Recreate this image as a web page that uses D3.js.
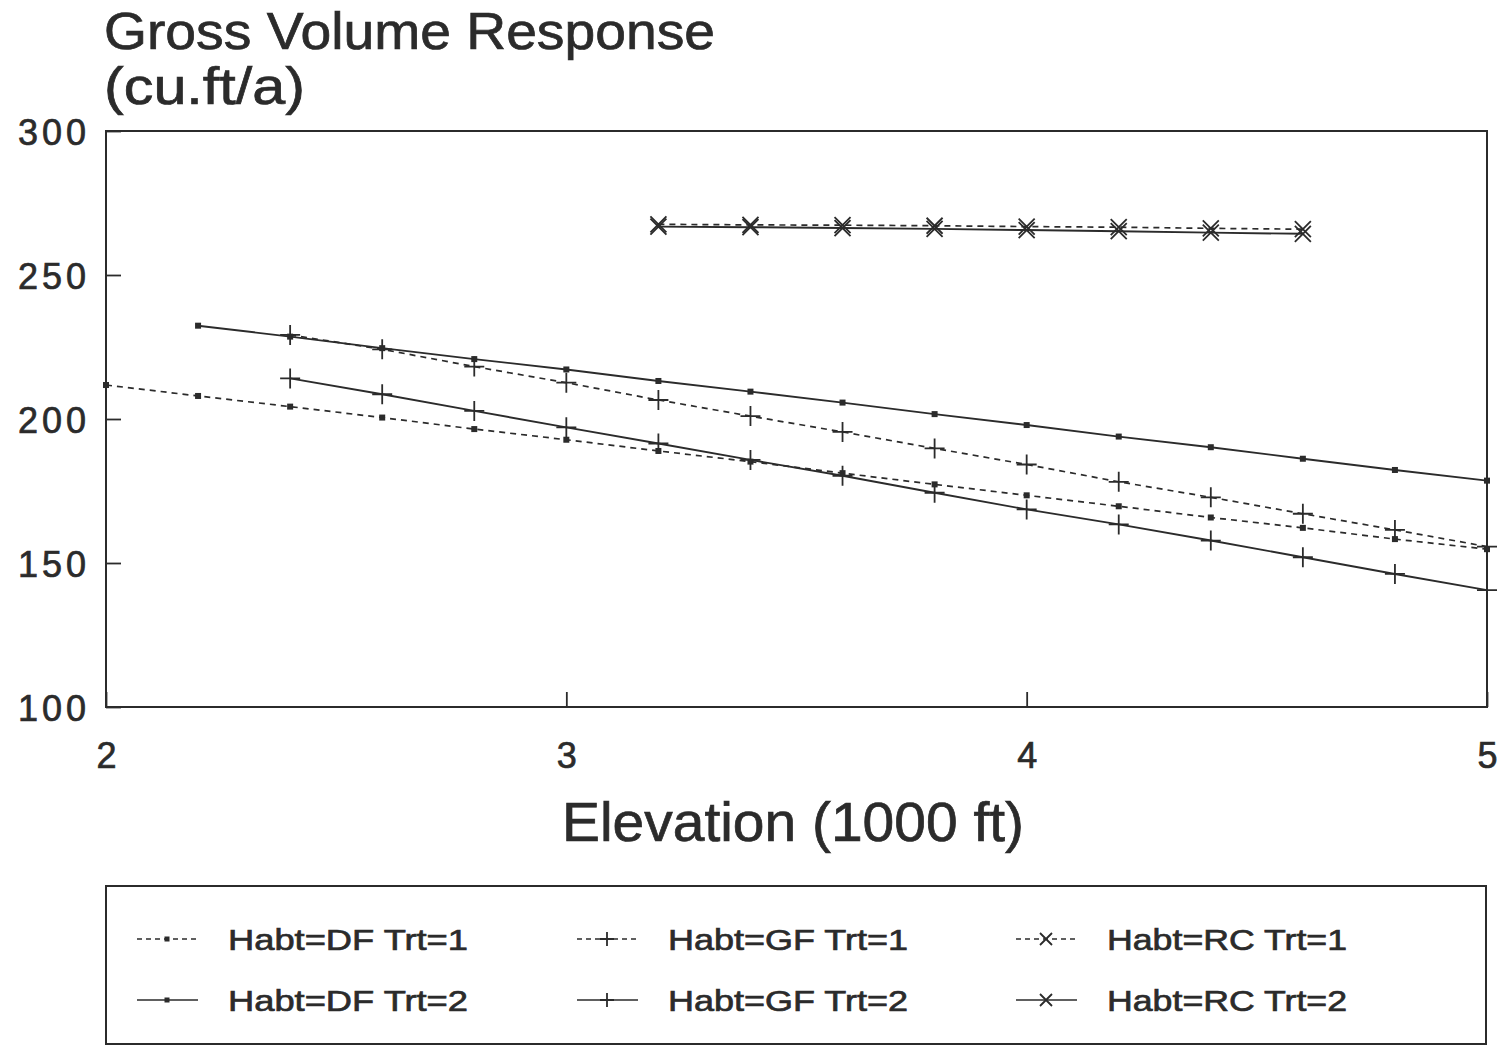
<!DOCTYPE html>
<html>
<head>
<meta charset="utf-8">
<script src="https://cdn.jsdelivr.net/npm/d3@7"></script>
<style>
  html, body { margin: 0; padding: 0; background: #fff; }
  svg { display: block; }
  text { font-family: "Liberation Sans", Arial, Helvetica, sans-serif; fill: #2b2b2b; stroke: #2b2b2b; stroke-width: 0.7px; }
</style>
</head>
<body>
<svg id="chart" width="1507" height="1046"></svg>
<script>
// ---------------- data ----------------
const xDF1 = [2.0, 2.2, 2.4, 2.6, 2.8, 3.0, 3.2, 3.4, 3.6, 3.8, 4.0, 4.2, 4.4, 4.6, 4.8, 5.0];
const yDF1 = [211.8, 208.0, 204.3, 200.5, 196.5, 192.8, 188.9, 185.2, 181.2, 177.3, 173.5, 169.7, 165.8, 162.2, 158.3, 154.8];

const xDF2 = [2.2, 2.4, 2.6, 2.8, 3.0, 3.2, 3.4, 3.6, 3.8, 4.0, 4.2, 4.4, 4.6, 4.8, 5.0];
const yDF2 = [232.4, 228.6, 224.6, 220.8, 217.2, 213.2, 209.5, 205.7, 201.7, 197.9, 193.9, 190.2, 186.2, 182.3, 178.6];

const xGF1 = [2.4, 2.6, 2.8, 3.0, 3.2, 3.4, 3.6, 3.8, 4.0, 4.2, 4.4, 4.6, 4.8, 5.0];
const yGF1 = [229.2, 224.2, 218.2, 212.6, 206.6, 201.0, 195.5, 189.8, 184.2, 178.2, 172.8, 167.1, 161.5, 155.7];

const xGF2 = [2.4, 2.6, 2.8, 3.0, 3.2, 3.4, 3.6, 3.8, 4.0, 4.2, 4.4, 4.6, 4.8, 5.0];
const yGF2 = [214.1, 208.6, 202.8, 197.1, 191.5, 185.8, 180.3, 174.4, 168.6, 163.4, 157.8, 152.0, 146.2, 140.6];

const xRC1 = [3.2, 3.4, 3.6, 3.8, 4.0, 4.2, 4.4, 4.6];
const yRC1 = [267.6, 267.4, 267.3, 267.1, 266.8, 266.6, 266.2, 265.9];

const xRC2 = [3.2, 3.4, 3.6, 3.8, 4.0, 4.2, 4.4, 4.6];
const yRC2 = [266.8, 266.6, 266.3, 266.0, 265.6, 265.2, 264.7, 264.3];

const seriesNames = ["Habt=DF Trt=1", "Habt=DF Trt=2", "Habt=GF Trt=1", "Habt=GF Trt=2", "Habt=RC Trt=1", "Habt=RC Trt=2"];
const xTicks = [2, 3, 4, 5];
const yTicks = [100, 150, 200, 250, 300];
const titleLines = ["Gross Volume Response", "(cu.ft/a)"];
const xTitle = "Elevation (1000 ft)";

// ---------------- setup ----------------
const INK = "#2b2b2b";
const svg = d3.select("#chart");
const L = 106, R = 1487, T = 131, B = 707;
const x = d3.scaleLinear().domain([2, 5]).range([L, R]);
const y = d3.scaleLinear().domain([100, 300]).range([B, T]);

const series = [
  { name: seriesNames[0], xs: xDF1, ys: yDF1, dash: true,  marker: "square" },
  { name: seriesNames[1], xs: xDF2, ys: yDF2, dash: false, marker: "square" },
  { name: seriesNames[2], xs: xGF1, ys: yGF1, dash: true,  marker: "plus" },
  { name: seriesNames[3], xs: xGF2, ys: yGF2, dash: false, marker: "plus" },
  { name: seriesNames[4], xs: xRC1, ys: yRC1, dash: true,  marker: "cross" },
  { name: seriesNames[5], xs: xRC2, ys: yRC2, dash: false, marker: "cross" }
];

function drawMarker(g, type, cx, cy, s) {
  if (type === "square") {
    g.append("rect").attr("x", cx - s.sq / 2).attr("y", cy - s.sq / 2)
      .attr("width", s.sq).attr("height", s.sq).attr("fill", INK);
  } else if (type === "plus") {
    g.append("path")
      .attr("d", `M${cx - s.pl},${cy}H${cx + s.pl}M${cx},${cy - s.pl}V${cy + s.pl}`)
      .attr("stroke", INK).attr("stroke-width", 1.8).attr("fill", "none");
  } else {
    g.append("path")
      .attr("d", `M${cx - s.cr},${cy - s.cr}L${cx + s.cr},${cy + s.cr}M${cx - s.cr},${cy + s.cr}L${cx + s.cr},${cy - s.cr}`)
      .attr("stroke", INK).attr("stroke-width", 1.8).attr("fill", "none");
  }
}

// ---------------- title ----------------
svg.append("text").attr("x", 104).attr("y", 49)
  .attr("font-size", 52).attr("textLength", 611).attr("lengthAdjust", "spacingAndGlyphs")
  .text(titleLines[0]);
svg.append("text").attr("x", 104).attr("y", 104)
  .attr("font-size", 52).attr("textLength", 201).attr("lengthAdjust", "spacingAndGlyphs")
  .text(titleLines[1]);

// ---------------- axes ----------------
const yAxis = d3.axisLeft(y).tickValues(yTicks).tickSize(-15).tickPadding(16).tickFormat(d3.format("d"));
const gy = svg.append("g").attr("transform", `translate(${L},0)`).call(yAxis);
gy.select(".domain").remove();
gy.selectAll(".tick line").attr("stroke", INK).attr("stroke-width", 1.8);
gy.selectAll(".tick text").attr("font-size", 36).attr("fill", INK)
  .attr("font-family", "'Liberation Sans', Arial, sans-serif")
  .style("letter-spacing", "4px").attr("dy", "0.37em");

const xAxis = d3.axisBottom(x).tickValues(xTicks).tickSize(-15).tickPadding(35).tickFormat(d3.format("d"));
const gx = svg.append("g").attr("transform", `translate(0,${B})`).call(xAxis);
gx.select(".domain").remove();
gx.selectAll(".tick line").attr("stroke", INK).attr("stroke-width", 1.8);
gx.selectAll(".tick text").attr("font-size", 36).attr("fill", INK)
  .attr("font-family", "'Liberation Sans', Arial, sans-serif");

// frame
svg.append("rect").attr("x", L).attr("y", T).attr("width", R - L).attr("height", B - T)
  .attr("fill", "none").attr("stroke", INK).attr("stroke-width", 2);

// x axis title
svg.append("text").attr("x", 562).attr("y", 841)
  .attr("font-size", 56).attr("textLength", 462).attr("lengthAdjust", "spacingAndGlyphs")
  .text(xTitle);

// ---------------- series ----------------
const line = d3.line().x(d => x(d[0])).y(d => y(d[1]));
const plotMarkerSize = { sq: 6, pl: 10, cr: 8 };
series.forEach(s => {
  const pts = s.xs.map((v, i) => [v, s.ys[i]]);
  svg.append("path").datum(pts).attr("d", line)
    .attr("fill", "none").attr("stroke", INK).attr("stroke-width", s.dash ? 1.7 : 1.9)
    .attr("stroke-dasharray", s.dash ? "6,5" : null);
  const g = svg.append("g");
  pts.forEach(p => drawMarker(g, s.marker, x(p[0]), y(p[1]), plotMarkerSize));
});

// ---------------- legend ----------------
svg.append("rect").attr("x", 106).attr("y", 886).attr("width", 1380).attr("height", 158)
  .attr("fill", "none").attr("stroke", INK).attr("stroke-width", 2);

const legCols = [137, 577, 1016];
const legRows = [939, 1000];
const legendMarkerSize = { sq: 5, pl: 7, cr: 6 };
series.forEach((s, i) => {
  const col = Math.floor(i / 2), row = i % 2;
  const lx = legCols[col], ly = legRows[row];
  const g = svg.append("g");
  g.append("line").attr("x1", lx).attr("x2", lx + 61).attr("y1", ly).attr("y2", ly)
    .attr("stroke", INK).attr("stroke-width", 1.7)
    .attr("stroke-dasharray", s.dash ? "5,4" : null);
  drawMarker(g, s.marker, lx + 30, ly, legendMarkerSize);
  g.append("text").attr("x", lx + 91).attr("y", ly + 11)
    .attr("font-size", 30).attr("textLength", 240).attr("lengthAdjust", "spacingAndGlyphs")
    .text(s.name);
});
</script>
</body>
</html>
